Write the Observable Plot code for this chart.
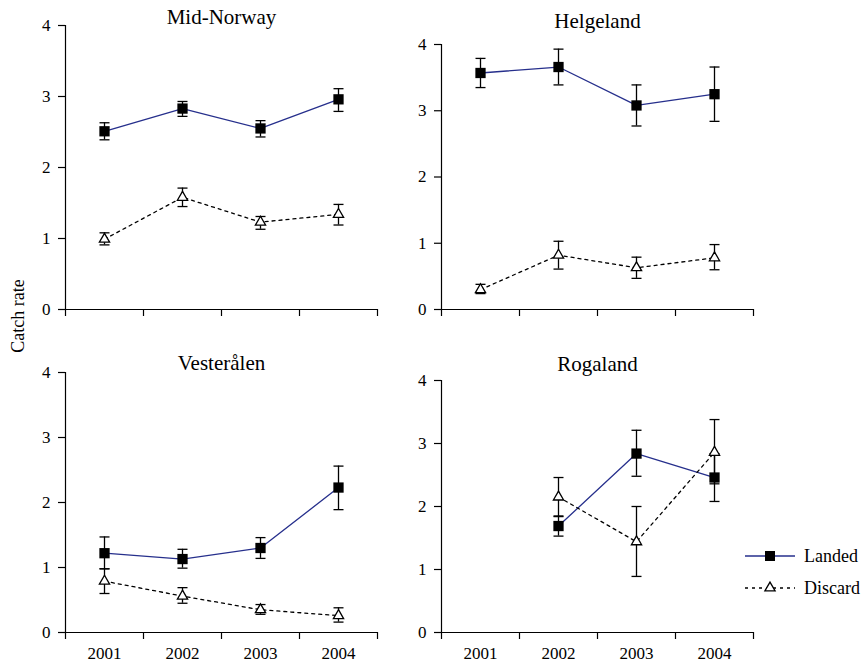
<!DOCTYPE html>
<html>
<head>
<meta charset="utf-8">
<script src="https://cdn.jsdelivr.net/npm/d3@7"></script>
<script src="https://cdn.jsdelivr.net/npm/@observablehq/plot@0.6"></script>
<style>
  html, body { margin: 0; padding: 0; background: #fff; }
  #chart { position: relative; width: 862px; height: 663px; font-family: "Liberation Serif", "Times New Roman", serif; }
  #chart > .panel { position: absolute; }
  #chart svg { overflow: visible; }
  #chart svg text { font-family: "Liberation Serif", "Times New Roman", serif !important; }
  #chart g[aria-label="y-axis tick label"] text,
  #chart g[aria-label="x-axis tick label"] text { font-size: 17px !important; }
  #overlay { position: absolute; left: 0; top: 0; pointer-events: none; }
</style>
</head>
<body>
<div id="chart"></div>
<script>
// ---- data ----
const years = [2001, 2002, 2003, 2004];
const regions = ["Mid-Norway", "Helgeland", "Vesterålen", "Rogaland"];
const seriesNames = ["Landed", "Discard"];
const yTicks = [0, 1, 2, 3, 4];

const landedMean = [
  [2.51, 2.83, 2.55, 2.96],
  [3.57, 3.66, 3.08, 3.25],
  [1.22, 1.13, 1.30, 2.23],
  [null, 1.69, 2.84, 2.46]
];
const landedLow = [
  [2.39, 2.72, 2.43, 2.79],
  [3.35, 3.39, 2.77, 2.84],
  [0.98, 0.99, 1.14, 1.89],
  [null, 1.53, 2.48, 2.08]
];
const landedHigh = [
  [2.63, 2.93, 2.66, 3.11],
  [3.79, 3.93, 3.39, 3.66],
  [1.47, 1.28, 1.46, 2.56],
  [null, 1.85, 3.21, 2.84]
];
const discardMean = [
  [0.99, 1.58, 1.23, 1.34],
  [0.30, 0.82, 0.63, 0.78],
  [0.79, 0.56, 0.35, 0.26],
  [null, 2.15, 1.44, 2.86]
];
const discardLow = [
  [0.91, 1.45, 1.13, 1.19],
  [0.24, 0.61, 0.47, 0.60],
  [0.60, 0.45, 0.28, 0.16],
  [null, 1.84, 0.89, 2.36]
];
const discardHigh = [
  [1.08, 1.71, 1.31, 1.48],
  [0.38, 1.03, 0.79, 0.98],
  [0.98, 0.69, 0.43, 0.38],
  [null, 2.46, 2.00, 3.38]
];

// ---- layout (not data) ----
const FONT = '"Liberation Serif", "Times New Roman", serif';
const NAVY = "#262f8c";
const layout = [
  {left: 0,   top: 0,   height: 330, marginTop: 25, marginBottom: 21, titleDy: -2,  xLabels: false},
  {left: 376, top: 0,   height: 330, marginTop: 44, marginBottom: 21, titleDy: -17, xLabels: false},
  {left: 0,   top: 330, height: 333, marginTop: 42, marginBottom: 31, titleDy: -3,  xLabels: true},
  {left: 376, top: 330, height: 333, marginTop: 50, marginBottom: 31, titleDy: -10, xLabels: true}
];

// cap symbol for error bars (horizontal line)
const capSymbol = { draw(ctx) { ctx.moveTo(-5, 0); ctx.lineTo(5, 0); } };

const xBounds = years.map(y => y - 0.5).concat([years[years.length - 1] + 0.5]);

function rowsFor(i) {
  const rows = [];
  years.forEach((yr, j) => {
    rows.push({series: "Landed", year: yr, mean: landedMean[i][j], lo: landedLow[i][j], hi: landedHigh[i][j]});
    rows.push({series: "Discard", year: yr, mean: discardMean[i][j], lo: discardLow[i][j], hi: discardHigh[i][j]});
  });
  return rows;
}

const chart = document.getElementById("chart");
const textStyle = {fontFamily: FONT, fontSize: 17, fill: "#000"};

regions.forEach((name, i) => {
  const L = layout[i];
  const rows = rowsFor(i).filter(d => d.mean != null);
  const landed = rows.filter(d => d.series === "Landed");
  const discard = rows.filter(d => d.series === "Discard");
  const marks = [
    // axis lines
    Plot.ruleX([xBounds[0]], {y1: yTicks[0], y2: yTicks[yTicks.length - 1], stroke: "#000", strokeWidth: 1.2}),
    Plot.ruleY([0], {x1: xBounds[0], x2: xBounds[xBounds.length - 1], stroke: "#000", strokeWidth: 1.2}),
    Plot.axisY({ticks: yTicks, tickSize: 7, tickPadding: 8, label: null, tickFormat: d => String(d), stroke: "#000", strokeWidth: 1.2, ...textStyle}),
    Plot.axisX({ticks: xBounds, tickSize: 7, label: null, tickFormat: () => "", stroke: "#000", strokeWidth: 1.2}),
    // error bars
    Plot.ruleX(rows, {x: "year", y1: "lo", y2: "hi", stroke: "#000", strokeWidth: 1.3}),
    Plot.dot(rows, {x: "year", y: "lo", symbol: capSymbol, stroke: "#000", strokeWidth: 1.3, fill: "none"}),
    Plot.dot(rows, {x: "year", y: "hi", symbol: capSymbol, stroke: "#000", strokeWidth: 1.3, fill: "none"}),
    // lines
    Plot.line(landed, {x: "year", y: "mean", stroke: NAVY, strokeWidth: 1.3}),
    Plot.line(discard, {x: "year", y: "mean", stroke: "#000", strokeWidth: 1.3, strokeDasharray: "3,4"}),
    // markers
    Plot.dot(discard, {x: "year", y: "mean", symbol: "triangle", r: 3.8, fill: "#fff", stroke: "#000", strokeWidth: 1.3}),
    Plot.dot(landed, {x: "year", y: "mean", symbol: "square", r: 5.8, fill: "#000", stroke: "none"}),
    // title
    Plot.text([name], {frameAnchor: "top", lineAnchor: "bottom", dy: L.titleDy, fontFamily: FONT, fontSize: 21, fill: "#000"})
  ];
  if (L.xLabels) {
    marks.push(Plot.axisX({ticks: years, tickSize: 0, tickPadding: 14, label: null, tickFormat: d => String(d), ...textStyle}));
  }
  const svg = Plot.plot({
    width: 431,
    height: L.height,
    marginLeft: 65,
    marginRight: 54,
    marginTop: L.marginTop,
    marginBottom: L.marginBottom,
    x: {type: "linear", domain: [xBounds[0], xBounds[xBounds.length - 1]], axis: null, label: null},
    y: {domain: [yTicks[0], yTicks[yTicks.length - 1]], axis: null, label: null},
    style: {fontFamily: FONT, fontSize: "17px", background: "transparent", overflow: "visible", color: "#000"},
    marks
  });
  const wrap = document.createElement("div");
  wrap.className = "panel";
  wrap.style.left = L.left + "px";
  wrap.style.top = L.top + "px";
  wrap.appendChild(svg);
  chart.appendChild(wrap);
});

// ---- overlay: y label and legend ----
const ov = d3.select(chart).append("svg")
  .attr("id", "overlay")
  .attr("width", 862).attr("height", 663)
  .style("font-family", FONT);

ov.append("text")
  .attr("transform", "translate(24,316) rotate(-90)")
  .attr("text-anchor", "middle")
  .attr("font-size", 18)
  .attr("fill", "#000")
  .text("Catch rate");

const leg = ov.append("g").attr("transform", "translate(745,556)");
seriesNames.forEach((s, k) => {
  const g = leg.append("g").attr("transform", `translate(0,${k * 32})`);
  g.append("line").attr("x1", 0).attr("x2", 50).attr("y1", 0).attr("y2", 0)
    .attr("stroke", s === "Landed" ? NAVY : "#000").attr("stroke-width", 1.3)
    .attr("stroke-dasharray", s === "Landed" ? null : "3,4");
  if (s === "Landed") {
    g.append("rect").attr("x", 20).attr("y", -5).attr("width", 10).attr("height", 10).attr("fill", "#000");
  } else {
    g.append("path").attr("d", d3.symbol(d3.symbolTriangle, Math.PI * 3.8 * 3.8)()).attr("transform", "translate(25,0)")
      .attr("fill", "#fff").attr("stroke", "#000").attr("stroke-width", 1.3);
  }
  g.append("text").attr("x", 59).attr("y", 0).attr("dy", "0.35em").attr("font-size", 18).attr("fill", "#000").text(s);
});
</script>
</body>
</html>
